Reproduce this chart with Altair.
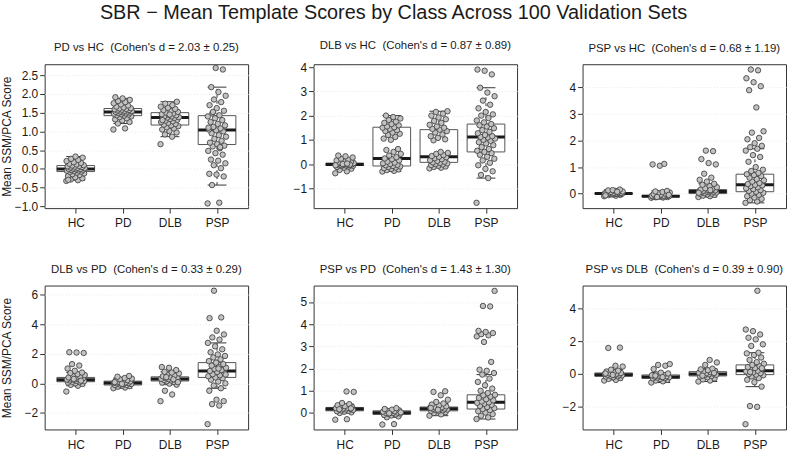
import altair as alt
import pandas as pd

CLASSES = ["HC", "PD", "DLB", "PSP"]
MAIN_TITLE = "SBR \u2212 Mean Template Scores by Class Across 100 Validation Sets"
PANEL_TITLES = [
    "PD vs HC \u00a0(Cohen's d = 2.03 \u00b1 0.25)",
    "DLB vs HC \u00a0(Cohen's d = 0.87 \u00b1 0.89)",
    "PSP vs HC \u00a0(Cohen's d = 0.68 \u00b1 1.19)",
    "DLB vs PD \u00a0(Cohen's d = 0.33 \u00b1 0.29)",
    "PSP vs PD \u00a0(Cohen's d = 1.43 \u00b1 1.30)",
    "PSP vs DLB \u00a0(Cohen's d = 0.39 \u00b1 0.90)",
]
Y_TITLE = "Mean SSM/PCA Score"
Y_DOMAINS = [[-1.045, 2.79], [-1.82, 4.12], [-0.55, 4.88],
             [-3.11, 6.6], [-0.74, 5.74], [-3.37, 5.37]]
Y_TICKS = [[-1.0, -0.5, 0.0, 0.5, 1.0, 1.5, 2.0, 2.5], [-1, 0, 1, 2, 3, 4],
           [0, 1, 2, 3, 4], [-2, 0, 2, 4, 6], [0, 1, 2, 3, 4, 5], [-2, 0, 2, 4]]
Y_FORMATS = [".1f", "d", "d", "d", "d", "d"]

# box statistics per panel, in class order HC, PD, DLB, PSP
Q1 = [[-0.07, 1.42, 1.17, 0.65], [-0.06, -0.08, 0.07, 0.50], [-0.02, -0.12, 0.00, 0.07],
      [0.11, -0.11, 0.16, 0.40], [0.10, -0.06, 0.10, 0.18], [-0.14, -0.26, -0.12, -0.04]]
MEDIAN = [[0.00, 1.52, 1.37, 1.04], [-0.02, 0.23, 0.30, 1.12], [0.00, -0.10, 0.08, 0.33],
          [0.24, 0.02, 0.29, 0.84], [0.18, 0.01, 0.19, 0.48], [-0.05, -0.18, 0.00, 0.20]]
Q3 = [[0.09, 1.61, 1.50, 1.42], [0.04, 1.52, 1.42, 1.65], [0.02, -0.07, 0.15, 0.73],
      [0.40, 0.15, 0.44, 1.40], [0.25, 0.10, 0.27, 0.82], [0.06, -0.06, 0.14, 0.55]]
W_LO = [[-0.30, 1.21, 0.86, -0.43], [-0.20, -0.31, -0.15, -0.58], [-0.10, -0.16, -0.13, -0.35],
        [-0.16, -0.33, -0.09, -0.33], [0.00, -0.19, -0.12, -0.27], [-0.36, -0.52, -0.46, -0.77]]
W_HI = [[0.33, 1.88, 1.79, 2.18], [0.19, 2.00, 2.18, 3.15], [0.15, 0.10, 0.37, 1.69],
        [0.73, 0.36, 0.78, 2.73], [0.40, 0.18, 0.43, 1.73], [0.26, 0.08, 0.32, 1.29]]

# panel 1: PD vs HC
P1_HC = [-0.32, -0.30, -0.28, -0.25, -0.22, -0.19, -0.16, -0.14, -0.12, -0.10, -0.08, -0.07,
         -0.06, -0.05, -0.04, -0.03, -0.02, -0.01, 0.0, 0.0, 0.01, 0.02, 0.03, 0.04, 0.05, 0.06,
         0.07, 0.08, 0.09, 0.10, 0.12, 0.14, 0.16, 0.18, 0.21, 0.24, 0.27, 0.30, 0.33, -0.29]
P1_PD = [1.05, 1.08, 1.21, 1.25, 1.29, 1.32, 1.35, 1.38, 1.40, 1.42, 1.43, 1.45, 1.46, 1.47,
         1.48, 1.49, 1.50, 1.51, 1.52, 1.53, 1.53, 1.54, 1.55, 1.56, 1.57, 1.58, 1.59, 1.60,
         1.61, 1.62, 1.64, 1.66, 1.69, 1.72, 1.75, 1.78, 1.81, 1.84, 1.88, 1.91]
P1_DLB = [0.66, 0.86, 0.92, 0.97, 1.01, 1.05, 1.08, 1.11, 1.14, 1.16, 1.18, 1.20, 1.23, 1.25,
          1.27, 1.29, 1.31, 1.33, 1.35, 1.36, 1.37, 1.38, 1.40, 1.41, 1.43, 1.44, 1.46, 1.48,
          1.50, 1.52, 1.54, 1.57, 1.60, 1.63, 1.66, 1.70, 1.74, 1.79, 1.45, 1.30]
P1_PSP = [-0.92, -0.90, -0.43, -0.20, -0.15, -0.13, 0.02, 0.10, 0.15, 0.22, 0.25, 0.38, 0.42,
          0.48, 0.55, 0.60, 0.62, 0.66, 0.70, 0.75, 0.80, 0.86, 0.90, 0.95, 1.00, 1.03, 1.05,
          1.08, 1.12, 1.16, 1.20, 1.25, 1.30, 1.35, 1.40, 1.43, 1.48, 1.55, 1.62, 1.70, 1.78,
          1.85, 1.95, 2.05, 2.18, 2.65, 2.69, 1.10, 0.58, 1.52]

# panel 2: DLB vs HC
P2_HC = [-0.38, -0.30, -0.24, -0.19, -0.15, -0.12, -0.10, -0.08, -0.07, -0.06, -0.05, -0.04,
         -0.03, -0.03, -0.02, -0.02, -0.01, 0.0, 0.01, 0.02, 0.03, 0.04, 0.05, 0.07, 0.09, 0.12,
         0.15, 0.18, 0.22, 0.27, 0.32, 0.35, -0.02, 0.0, -0.05, 0.02]
P2_PD = [-0.31, -0.28, -0.25, -0.22, -0.20, -0.17, -0.14, -0.12, -0.10, -0.08, -0.05, -0.03,
         0.0, 0.03, 0.06, 0.10, 0.15, 0.20, 0.23, 0.28, 0.35, 0.42, 0.50, 0.58, 0.62,
         1.00, 1.05, 1.12, 1.20, 1.25, 1.30, 1.36, 1.40, 1.45, 1.50, 1.52, 1.55, 1.60, 1.65,
         1.70, 1.75, 1.82, 1.88, 1.94, 2.00]
P2_DLB = [-0.18, -0.15, -0.12, -0.10, -0.07, -0.04, -0.02, 0.0, 0.03, 0.05, 0.07, 0.10, 0.13,
          0.16, 0.20, 0.24, 0.28, 0.30, 0.33, 0.37, 0.42, 0.46, 0.50,
          0.98, 1.02, 1.08, 1.15, 1.22, 1.30, 1.36, 1.42, 1.45, 1.50, 1.55, 1.62, 1.70, 1.78,
          1.85, 1.92, 2.00, 2.08, 2.15, 2.18]
P2_PSP = [-1.60, -0.58, -0.45, -0.30, -0.20, -0.05, 0.05, 0.15, 0.22, 0.30, 0.38, 0.45, 0.50,
          0.55, 0.62, 0.70, 0.78, 0.85, 0.90, 0.96, 1.00, 1.05, 1.10, 1.12, 1.15, 1.20, 1.27,
          1.33, 1.40, 1.48, 1.55, 1.60, 1.65, 1.72, 1.80, 1.90, 2.00, 2.05, 2.15, 2.30, 2.45,
          2.62, 2.80, 2.95, 3.15, 3.70, 3.85, 3.90]

# panel 3: PSP vs HC
P3_HC = [-0.10, -0.08, -0.06, -0.05, -0.04, -0.03, -0.02, -0.02, -0.01, -0.01, 0.0, 0.0, 0.0,
         0.01, 0.01, 0.02, 0.02, 0.03, 0.04, 0.05, 0.06, 0.08, 0.10, 0.12, 0.15, 0.13, -0.07, 0.07]
P3_PD = [-0.16, -0.15, -0.14, -0.13, -0.12, -0.12, -0.11, -0.11, -0.10, -0.10, -0.10, -0.09,
         -0.09, -0.08, -0.08, -0.07, -0.06, -0.04, -0.02, 0.0, 0.02, 0.04, 0.06, 0.08, 0.10,
         1.05, 1.10, 1.12, -0.13, -0.05]
P3_DLB = [-0.13, -0.10, -0.08, -0.05, -0.03, -0.01, 0.0, 0.02, 0.04, 0.05, 0.06, 0.07, 0.08,
          0.09, 0.10, 0.11, 0.12, 0.14, 0.15, 0.17, 0.20, 0.24, 0.28, 0.33, 0.37, 0.45, 0.52,
          0.60, 0.75, 1.10, 1.15, 1.30, 1.60, 1.62, 0.03, 0.13]
P3_PSP = [-0.35, -0.30, -0.25, -0.20, -0.15, -0.10, -0.05, 0.0, 0.03, 0.07, 0.10, 0.13, 0.17,
          0.20, 0.24, 0.28, 0.31, 0.33, 0.36, 0.40, 0.45, 0.50, 0.55, 0.60, 0.66, 0.70, 0.73,
          0.78, 0.85, 0.90, 1.00, 1.20, 1.38, 1.45, 1.62, 1.69, 1.75, 1.80, 1.90, 2.05, 2.10,
          2.30, 2.35, 3.25, 3.90, 4.05, 4.20, 4.35, 4.65, 4.68]

# panel 4: DLB vs PD
P4_HC = [-0.55, -0.16, -0.10, -0.04, 0.0, 0.05, 0.08, 0.11, 0.14, 0.17, 0.20, 0.22, 0.24,
         0.26, 0.29, 0.32, 0.35, 0.38, 0.40, 0.45, 0.50, 0.56, 0.63, 0.70, 0.73, 0.85, 1.00,
         1.20, 1.30, 2.05, 2.08, 2.10, 0.18, 0.30]
P4_PD = [-0.33, -0.28, -0.23, -0.19, -0.15, -0.12, -0.10, -0.07, -0.05, -0.02, 0.0, 0.02,
         0.03, 0.05, 0.07, 0.10, 0.13, 0.15, 0.18, 0.22, 0.27, 0.32, 0.36, 0.45, 0.50, -0.03, 0.08]
P4_DLB = [-1.20, -0.75, -0.50, -0.09, -0.02, 0.05, 0.10, 0.14, 0.17, 0.20, 0.23, 0.26, 0.29,
          0.31, 0.34, 0.37, 0.40, 0.44, 0.48, 0.53, 0.60, 0.67, 0.73, 0.78, 0.90, 1.05, 1.10,
          0.27, 0.42, 0.08]
P4_PSP = [-2.75, -1.50, -1.40, -1.20, -1.10, -0.50, -0.33, -0.15, 0.0, 0.12, 0.25, 0.35, 0.40,
          0.48, 0.55, 0.62, 0.70, 0.77, 0.84, 0.90, 0.98, 1.05, 1.12, 1.20, 1.30, 1.40, 1.50,
          1.62, 1.75, 1.85, 1.95, 2.10, 2.30, 2.50, 2.73, 2.95, 3.10, 3.30, 3.55, 4.40, 4.45,
          6.25, 0.60, 1.00]

# panel 5: PSP vs PD
P5_HC = [-0.30, -0.28, 0.0, 0.03, 0.06, 0.08, 0.10, 0.12, 0.14, 0.16, 0.18, 0.19, 0.20, 0.22,
         0.24, 0.25, 0.28, 0.31, 0.35, 0.40, 0.45, 0.95, 0.97, 0.17, 0.21]
P5_PD = [-0.52, -0.50, -0.19, -0.15, -0.11, -0.08, -0.06, -0.04, -0.02, 0.0, 0.01, 0.02, 0.04,
         0.06, 0.08, 0.10, 0.12, 0.15, 0.18, 0.22, -0.01, 0.03]
P5_DLB = [-0.12, -0.06, 0.0, 0.04, 0.08, 0.10, 0.12, 0.14, 0.16, 0.18, 0.19, 0.20, 0.22, 0.24,
          0.26, 0.27, 0.30, 0.34, 0.38, 0.43, 0.50, 0.60, 0.80, 0.95, 0.98, 0.15, 0.23]
P5_PSP = [-0.27, -0.20, -0.12, -0.05, 0.02, 0.08, 0.13, 0.18, 0.22, 0.27, 0.32, 0.37, 0.42,
          0.46, 0.48, 0.52, 0.57, 0.62, 0.68, 0.74, 0.80, 0.82, 0.90, 1.00, 1.10, 1.25, 1.40,
          1.55, 1.73, 1.80, 1.90, 1.95, 2.30, 3.20, 3.45, 3.50, 3.55, 3.60, 3.65, 3.70, 4.80,
          4.82, 5.50]

# panel 6: PSP vs DLB
P6_HC = [-0.40, -0.36, -0.30, -0.25, -0.20, -0.16, -0.14, -0.11, -0.09, -0.07, -0.05, -0.04,
         -0.02, 0.0, 0.02, 0.04, 0.06, 0.10, 0.15, 0.20, 0.26, 0.45, 0.50, 1.58, 1.60, -0.06, 0.03]
P6_PD = [-0.52, -0.45, -0.40, -0.35, -0.30, -0.27, -0.25, -0.22, -0.20, -0.18, -0.16, -0.14,
         -0.11, -0.08, -0.06, -0.02, 0.03, 0.08, 0.30, 0.50, 0.55, 0.60, -0.19, -0.10]
P6_DLB = [-0.46, -0.40, -0.33, -0.27, -0.20, -0.15, -0.12, -0.08, -0.05, -0.02, 0.0, 0.02,
          0.05, 0.08, 0.11, 0.14, 0.18, 0.23, 0.28, 0.32, 0.55, 0.70, 0.85, -0.10, 0.06]
P6_PSP = [-3.05, -2.00, -1.95, -0.77, -0.50, -0.35, -0.25, -0.15, -0.08, -0.04, 0.0, 0.05,
          0.10, 0.15, 0.20, 0.25, 0.30, 0.36, 0.42, 0.48, 0.55, 0.62, 0.72, 0.85, 1.00, 1.15,
          1.25, 1.29, 1.70, 1.80, 2.10, 2.20, 2.40, 2.60, 2.70, 5.05, 0.12, 0.35]

POINTS = [
    [P1_HC, P1_PD, P1_DLB, P1_PSP],
    [P2_HC, P2_PD, P2_DLB, P2_PSP],
    [P3_HC, P3_PD, P3_DLB, P3_PSP],
    [P4_HC, P4_PD, P4_DLB, P4_PSP],
    [P5_HC, P5_PD, P5_DLB, P5_PSP],
    [P6_HC, P6_PD, P6_DLB, P6_PSP],
]

FONT = "Liberation Sans"
PANEL_W, PANEL_H = 205, 145
LABEL_EXPR = "['', 'HC', 'PD', 'DLB', 'PSP'][datum.value]"


def make_panel(k):
    rows = []
    for ci, vals in enumerate(POINTS[k]):
        for i, v in enumerate(vals):
            rows.append({"pos": ci + 1, "idx": i, "val": v})
    pts = pd.DataFrame(rows)
    box = pd.DataFrame({
        "cls": CLASSES, "pos": [1, 2, 3, 4],
        "q1": Q1[k], "med": MEDIAN[k], "q3": Q3[k], "lo": W_LO[k], "hi": W_HI[k],
    })

    xs = alt.Scale(domain=[0.34, 4.66], nice=False, zero=False)
    ys = alt.Scale(domain=Y_DOMAINS[k], nice=False, zero=False)
    xaxis = alt.Axis(values=[1, 2, 3, 4], labelExpr=LABEL_EXPR, title=None, grid=False,
                     domain=False, tickSize=5, labelPadding=5, labelFontSize=12)
    # every panel carries the same (possibly invisible) y title so panels align
    yaxis = alt.Axis(values=Y_TICKS[k], format=Y_FORMATS[k], grid=True, domain=False,
                     tickSize=5, labelPadding=2, labelFontSize=12, minExtent=30,
                     maxExtent=30, gridColor="#e9e9e9", gridDash=[1, 2], gridWidth=1,
                     title=Y_TITLE, titlePadding=1, titleFontSize=12,
                     titleFontWeight="normal",
                     titleOpacity=1 if k % 3 == 0 else 0)

    def X(f):
        return alt.X(f"{f}:Q", scale=xs, axis=xaxis)

    def Y(f):
        return alt.Y(f"{f}:Q", scale=ys, axis=yaxis)

    bb = alt.Chart(box).transform_calculate(
        xl="datum.pos - 0.4", xr="datum.pos + 0.4",
        sl="datum.pos - 0.2", sr="datum.pos + 0.2")

    rect = bb.mark_bar(fill="white", stroke="#555555", strokeWidth=1).encode(
        x=X("xl"), x2="xr:Q", y=Y("q1"), y2="q3:Q")
    wh_up = bb.mark_rule(color="#333333", strokeWidth=1, strokeDash=[3, 3]).encode(
        x=X("pos"), y=Y("q3"), y2="hi:Q")
    wh_lo = bb.mark_rule(color="#333333", strokeWidth=1, strokeDash=[3, 3]).encode(
        x=X("pos"), y=Y("lo"), y2="q1:Q")
    st_up = bb.mark_rule(color="#333333", strokeWidth=1).encode(
        x=X("sl"), x2="sr:Q", y=Y("hi"))
    st_lo = bb.mark_rule(color="#333333", strokeWidth=1).encode(
        x=X("sl"), x2="sr:Q", y=Y("lo"))
    med = bb.mark_rule(color="#1a1a1a", strokeWidth=3).encode(
        x=X("xl"), x2="xr:Q", y=Y("med"))

    dots = alt.Chart(pts).transform_calculate(
        jx="datum.pos + ((datum.idx * 0.6180339887) % 1 - 0.5) * 0.4"
    ).mark_circle(size=30, fill="#c2c2c2", stroke="#454545", strokeWidth=0.9,
                  opacity=1).encode(x=X("jx"), y=Y("val"))

    return alt.layer(rect, wh_up, wh_lo, st_up, st_lo, med, dots).properties(
        width=PANEL_W, height=PANEL_H,
        title=alt.TitleParams(PANEL_TITLES[k], fontSize=11.5, fontWeight="normal",
                              font=FONT, color="#1a1a1a", offset=10, anchor="middle"),
    )


panels = [make_panel(k) for k in range(6)]

chart = alt.concat(*panels, columns=3,
                   spacing=alt.RowColnumber(row=34, column=20)).properties(
    title=alt.TitleParams(MAIN_TITLE, fontSize=20, fontWeight="normal", font=FONT,
                          color="#1a1a1a", anchor="middle", offset=17),
    padding={"left": 0, "top": 0, "right": 0, "bottom": 0},
).configure_view(
    stroke="#333333", strokeWidth=1
).configure_axis(
    labelFont=FONT, titleFont=FONT, labelColor="#1a1a1a", titleColor="#1a1a1a",
    tickColor="#333333", tickWidth=1
)

chart.save("out.html", embed_options={"renderer": "svg", "actions": False})
